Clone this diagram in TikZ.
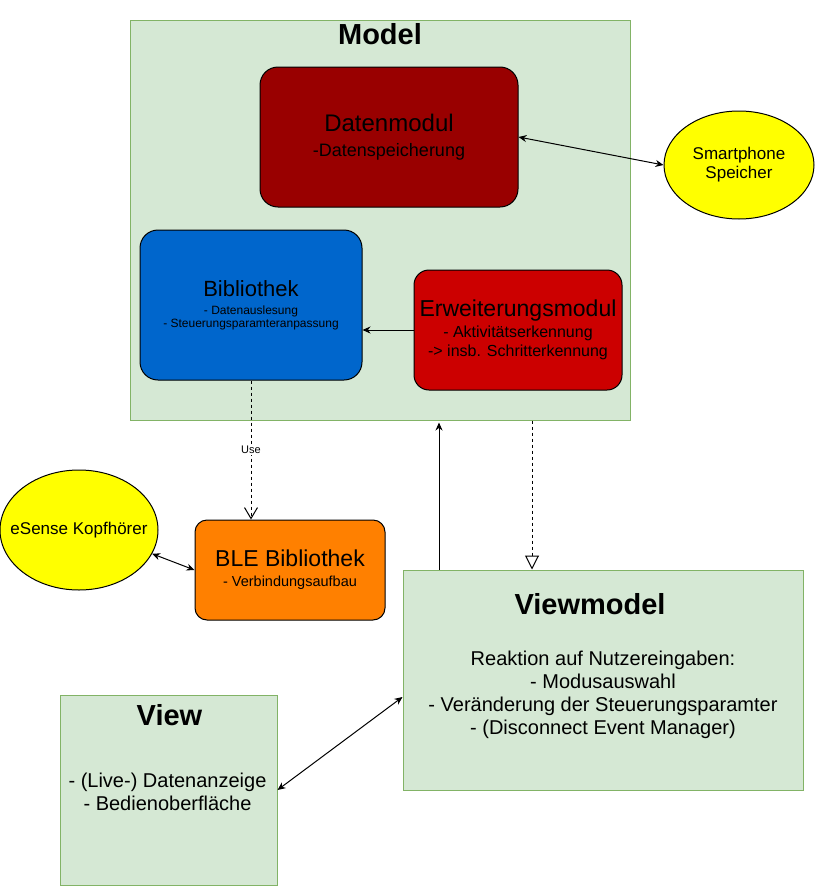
\documentclass[tikz,border=0pt]{standalone}
\usepackage{fontspec}
\setmainfont{Liberation Sans}
\usepackage{tikz}
\usetikzlibrary{positioning,arrows.meta,shapes.geometric}
\definecolor{paneg}{HTML}{D5E8D4}
\definecolor{paneline}{HTML}{82B366}
\definecolor{datred}{HTML}{990000}
\definecolor{bibblue}{HTML}{0066CC}
\definecolor{erwred}{HTML}{CC0000}
\definecolor{bleorange}{HTML}{FF8000}
\definecolor{ovalyellow}{HTML}{FFFF00}
\newcommand{\fs}[2]{\fontsize{#1}{#2}\selectfont}

\begin{document}
\begin{tikzpicture}[x=1pt,y=-1pt,
  pane/.style={draw=paneline,fill=paneg,line width=1pt},
  box/.style={draw=black,line width=1pt,rounded corners=18,align=center,inner sep=0},
  oval/.style={ellipse,draw=black,fill=ovalyellow,line width=1pt,align=center,inner sep=0},
  head/.style={font=\fs{29}{33}\bfseries},
  arr/.style={draw,line width=1pt,-{Stealth[length=8pt,width=7pt]}},
  both/.style={draw,line width=1pt,{Stealth[length=8pt,width=7pt]}-{Stealth[length=8pt,width=7pt]}},
  uses/.style={draw,line width=1pt,dash pattern=on 3pt off 3pt,-{Straight Barb[length=11pt,width=13pt]}},
  realize/.style={draw,line width=1pt,dash pattern=on 3pt off 3pt,-{Triangle[open,length=14pt,width=14pt]}}]
\useasboundingbox (0,0) rectangle (814,886);
% Model
\node[pane,minimum width=500,minimum height=400] (model) at (380,220) {};
\node[head] (mtitle) at (380,34) {Model};
\node[box,fill=datred,minimum width=258,minimum height=140,font=\fs{18}{25}] (dat) at (389,137)
  {{\fs{24}{25}Datenmodul}\\-Datenspeicherung};
\node[box,fill=bibblue,minimum width=222,minimum height=150,font=\fs{12}{13}] (bib) at (251,305)
  {{\fs{22}{13}Bibliothek}\\[5pt]- Datenauslesung\\- Steuerungsparamteranpassung};
\node[box,fill=erwred,rounded corners=15,minimum width=208,minimum height=120,font=\fs{16}{19}] (erw) at (518,330)
  {{\fs{23}{19}Erweiterungsmodul}\\[2pt]- Aktivitätserkennung\\-> insb. Schritterkennung};
\node[oval,minimum width=150,minimum height=108,font=\fs{17}{19}] (phone) at (739,165) {Smartphone\\Speicher};
% outside
\node[oval,minimum width=158,minimum height=120,font=\fs{17}{19}] (esense) at (79,530) {\makebox[0pt]{eSense Kopfhörer}};
\node[box,fill=bleorange,rounded corners=12,minimum width=190,minimum height=100,font=\fs{14.5}{20}] (ble) at (290,570)
  {{\fs{23}{20}BLE Bibliothek}\\- Verbindungsaufbau};
% Viewmodel and View
\node[pane,minimum width=400,minimum height=220] (vm) at (603,680) {};
\node[head] (vmtitle) at (590,604) {Viewmodel};
\node[font=\fs{20}{23},align=center] (vmtext) at (603,695)
  {Reaktion auf Nutzereingaben:\\- Modusauswahl\\- Veränderung der Steuerungsparamter\\- (Disconnect Event Manager)};
\node[pane,minimum width=217,minimum height=190] (view) at (168.5,790) {};
\node[head] (vtitle) at (169.5,715) {View};
\node[font=\fs{20}{23},align=center] (vtext) at (167.5,792) {- (Live-) Datenanzeige\\- Bedienoberfläche};
% connectors
\draw[both] (dat.east) -- (phone.west);
\draw[arr] (erw.west) -- (erw.west -| bib.east);
\draw[uses] (bib.south) -- node[fill=white,font=\fs{11}{13},inner sep=1pt] (uselbl) {Use} (bib.south |- ble.north);
\draw[both] (esense.-18) -- (ble.west);
\coordinate (vmup) at ([xshift=-164pt]vm.north);
\draw[arr,shorten >=2pt] (vmup) -- (vmup |- model.south);
\coordinate (mdown) at ([xshift=152pt]model.south);
\draw[realize] (mdown) -- (mdown |- vm.north);
\draw[both] (view.east) -- ([yshift=-17pt]vm.west);
\end{tikzpicture}
\end{document}
